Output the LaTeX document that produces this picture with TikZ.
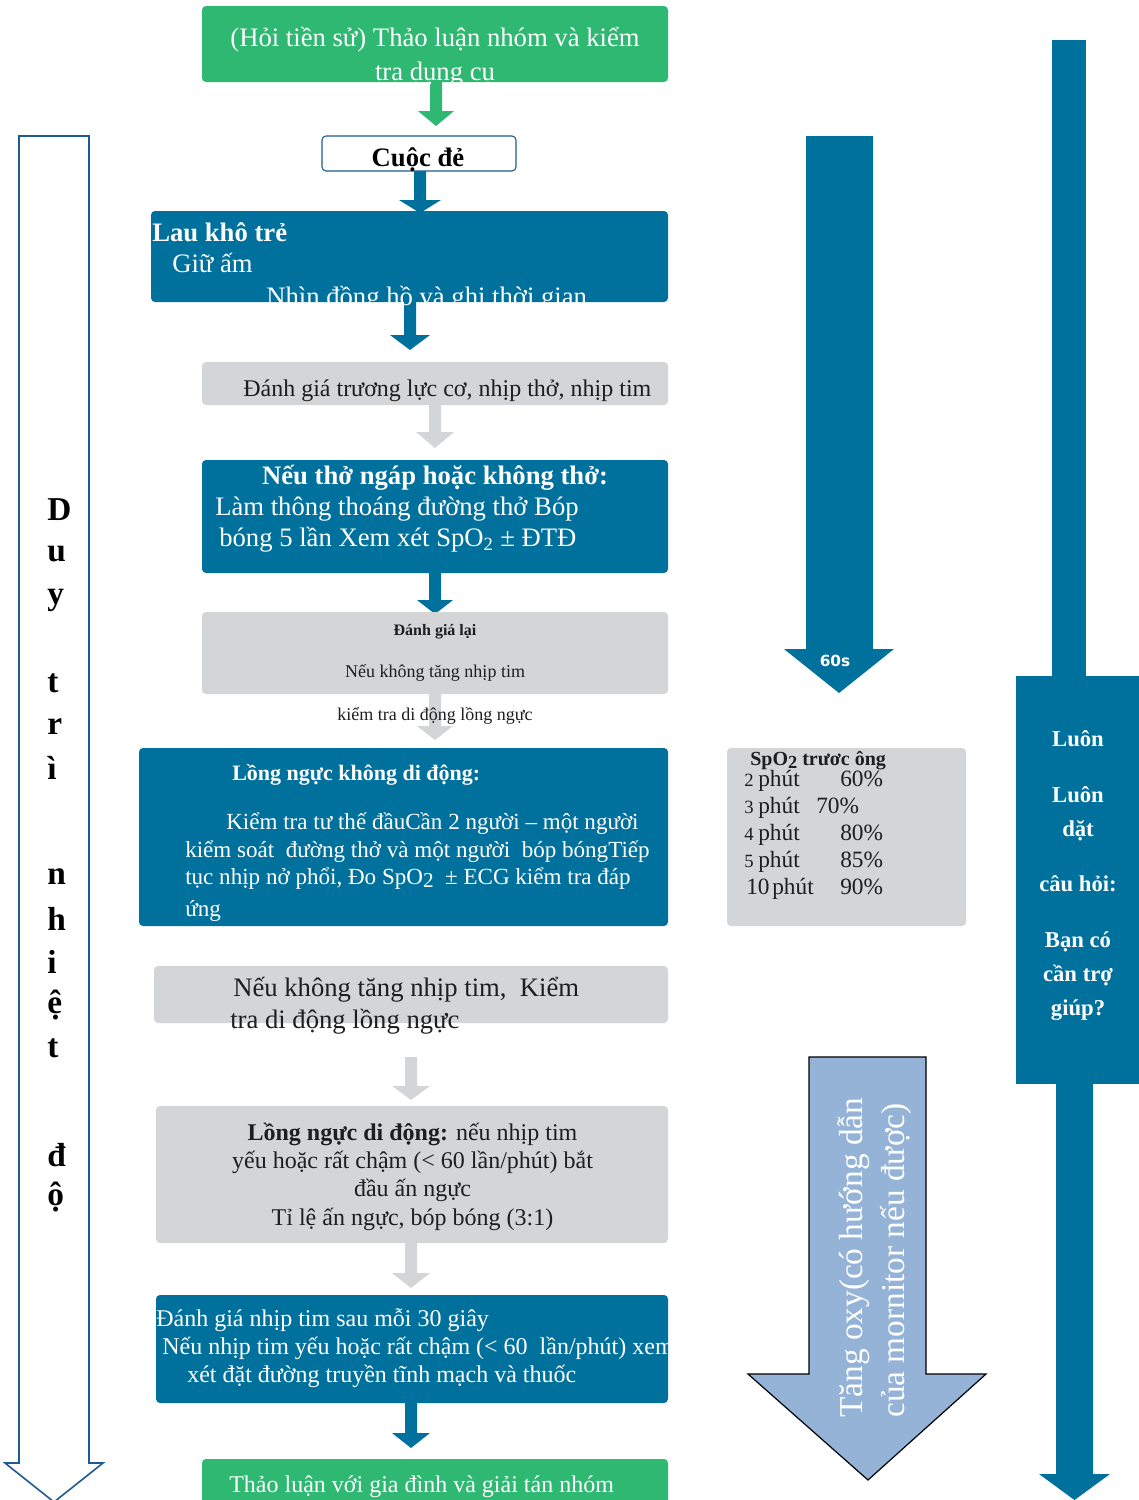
\documentclass[tikz,border=0pt]{standalone}
\usepackage{fontspec}
\setmainfont{Liberation Serif}
\newfontfamily\sansfnt{DejaVu Sans}
\usetikzlibrary{fit}
\definecolor{cgreen}{RGB}{46,184,114}
\definecolor{cblue}{RGB}{0,113,156}
\definecolor{cgray}{RGB}{212,213,215}
\definecolor{clight}{RGB}{149,179,215}
\definecolor{coutl}{RGB}{31,90,145}
\definecolor{ctext}{RGB}{30,30,30}
% #1 colour, #2 x centre, #3 top, #4 tip, #5 half shaft, #6 half head, #7 head start
\newcommand\blockarrow[7]{\fill[#1] (#2-#5,#3) -- (#2+#5,#3) -- (#2+#5,#7) -- (#2+#6,#7) -- (#2,#4) -- (#2-#6,#7) -- (#2-#5,#7) -- cycle;}
\newcommand\fsz[2]{\fontsize{#1}{#2}\selectfont}
\newcommand\bigsub[1]{\raisebox{-0.35ex}{\scalebox{0.92}{#1}}}
\begin{document}
\begin{tikzpicture}[x=0.75pt,y=-0.75pt,
  box/.style={inner sep=0pt, rounded corners=3pt},
  wt/.style={inner sep=0pt, text=white},
  bt/.style={inner sep=0pt, text=ctext},
  lt/.style={inner sep=0pt, text=black, anchor=west, font=\fsz{25}{30}\bfseries},
  rt/.style={inner sep=0pt, text=white, anchor=base, font=\fsz{17}{20}\bfseries},
]
\useasboundingbox (0,0) rectangle (1139,1500);
\fill[white] (0,0) rectangle (1139,1500);

% ---------- connectors (block arrows) ----------
\blockarrow{cgreen}{436}{80}{126}{6}{18}{111}
\blockarrow{cblue}{420}{170}{213}{6}{21}{200}
\blockarrow{cblue}{410}{300}{350}{6}{20}{335}
\blockarrow{cgray}{435}{404}{448}{6}{19}{432}
\blockarrow{cblue}{435}{572}{614}{6}{18}{600}
\blockarrow{cgray}{435}{693}{740}{6}{18}{726}
\blockarrow{cgray}{411}{1057}{1100}{6}{19}{1086}
\blockarrow{cgray}{411}{1242}{1288}{6}{19}{1273}
\blockarrow{cblue}{411}{1402}{1448}{6}{19}{1433}

% ---------- side arrows ----------
\draw[coutl, line width=1.2pt, fill=white] (19,136) -- (89,136) -- (89,1463) -- (103,1463) -- (54,1502) -- (5,1463) -- (19,1463) -- cycle;
\fill[cblue] (806,136) -- (873,136) -- (873,649) -- (894,649) -- (839,693) -- (784,649) -- (806,649) -- cycle;
\draw[black, line width=0.9pt, fill=clight] (809,1057) -- (926,1057) -- (926,1374) -- (986,1374) -- (868,1480) -- (748,1374) -- (809,1374) -- cycle;
\fill[cblue] (1052,40) rectangle (1086,690);
\blockarrow{cblue}{1074.5}{1070}{1500}{18.5}{35.5}{1474}

% ---------- boxes ----------
\node[box, fill=cgreen, fit={(202,6) (668,82)}] (b1) {};
\node[box, fill=white, draw=coutl, line width=0.8pt, fit={(322,136) (516,171)}] (b2) {};
\node[box, fill=cblue, fit={(151,211) (668,302)}] (b3) {};
\node[box, fill=cgray, fit={(202,362) (668,405)}] (b4) {};
\node[box, fill=cblue, fit={(202,460) (668,573)}] (b5) {};
\node[box, fill=cgray, fit={(202,612) (668,694)}] (b6) {};
\node[box, fill=cblue, fit={(139,748) (668,926)}] (b7) {};
\node[box, fill=cgray, fit={(154,966) (668,1023)}] (b8) {};
\node[box, fill=cgray, fit={(156,1106) (668,1243)}] (b9) {};
\node[box, fill=cblue, fit={(156,1295) (668,1403)}] (b10) {};
\node[box, fill=cgreen, fit={(202,1459) (668,1510)}] (b11) {};
\node[box, fill=cgray, fit={(727,748) (966,926)}] (b12) {};
\node[inner sep=0pt, fill=cblue, fit={(1016,676) (1139,1084)}] (b13) {};

% ---------- texts ----------
\node[wt, anchor=base, font=\fsz{20}{24}] (t1a) at (435,46) {(Hỏi tiền sử) Thảo luận nhóm và kiểm};
\node[wt, anchor=base, font=\fsz{20}{24}] (t1b) at (435,80) {tra dụng cụ};
\node[inner sep=0pt, text=black, anchor=base, font=\fsz{20}{24}\bfseries] (t2) at (418,166) {Cuộc đẻ};
\node[wt, anchor=base west, font=\fsz{20}{24}\bfseries] (t3a) at (152,241) {Lau khô trẻ};
\node[wt, anchor=base west, font=\fsz{20}{24}] (t3b) at (172,272) {Giữ ấm};
\node[wt, anchor=base west, font=\fsz{20}{24}] (t3c) at (266,305) {Nhìn đồng hồ và ghi thời gian};
\node[bt, anchor=base west, font=\fsz{18}{22}] (t4) at (243,396) {Đánh giá trương lực cơ, nhịp thở, nhịp tim};
\node[wt, anchor=base, font=\fsz{20}{23}\bfseries] (t5a) at (435,484) {Nếu thở ngáp hoặc không thở:};
\node[wt, anchor=base west, font=\fsz{20}{23}] (t5b) at (215,515) {Làm thông thoáng đường thở Bóp};
\node[wt, anchor=base west, font=\fsz{20}{23}] (t5c) at (219,546) {bóng 5 lần Xem xét SpO\textsubscript{2} ± ĐTĐ};
\node[bt, anchor=base, font=\fsz{12}{14}\bfseries] (t6a) at (435,635) {Đánh giá lại};
\node[bt, anchor=base, font=\fsz{13.5}{16}] (t6b) at (435,677) {Nếu không tăng nhịp tim};
\node[bt, anchor=base, font=\fsz{13.5}{16}] (t6c) at (435,720) {kiểm tra di động lồng ngực};
\node[wt, anchor=base west, font=\fsz{16.5}{20}\bfseries] (t7a) at (232,780) {Lồng ngực không di động:};
\node[wt, anchor=base west, font=\fsz{17.3}{20}] (t7b) at (226,829) {Kiểm tra tư thế đầuCần 2 người – một người};
\node[wt, anchor=base west, font=\fsz{17.3}{20}] (t7c) at (185,857) {kiểm soát\ \ đường thở và một người\ \ bóp bóngTiếp};
\node[wt, anchor=base west, font=\fsz{17.3}{20}] (t7d) at (185,884) {tục nhịp nở phổi, Đo SpO\bigsub{2}\ \ ± ECG kiểm tra đáp};
\node[wt, anchor=base west, font=\fsz{17.3}{20}] (t7e) at (185,916) {ứng};
\node[bt, anchor=base west, font=\fsz{20}{24}] (t8a) at (233,996) {Nếu không tăng nhịp tim,\ \ Kiểm};
\node[bt, anchor=base west, font=\fsz{20}{24}] (t8b) at (230,1028) {tra di động lồng ngực};
\node[bt, anchor=base, font=\fsz{18}{22}] (t9a) at (412.5,1140) {\textbf{Lồng ngực di động:} nếu nhịp tim};
\node[bt, anchor=base, font=\fsz{18}{22}] (t9b) at (412.5,1168) {yếu hoặc rất chậm (< 60 lần/phút) bắt};
\node[bt, anchor=base, font=\fsz{18}{22}] (t9c) at (412.5,1196) {đầu ấn ngực};
\node[bt, anchor=base, font=\fsz{18}{22}] (t9d) at (412.5,1225) {Tỉ lệ ấn ngực, bóp bóng (3:1)};
\node[wt, anchor=base west, font=\fsz{18}{22}] (t10a) at (156,1326) {Đánh giá nhịp tim sau mỗi 30 giây};
\node[wt, anchor=base west, font=\fsz{18}{22}] (t10b) at (162,1354) {Nếu nhịp tim yếu hoặc rất chậm (< 60\ \ lần/phút) xem};
\node[wt, anchor=base west, font=\fsz{18}{22}] (t10c) at (187,1382) {xét đặt đường truyền tĩnh mạch và thuốc};
\node[wt, anchor=base west, font=\fsz{18}{22}] (t11) at (229,1492) {Thảo luận với gia đình và giải tán nhóm};

% SpO2 table
\node[bt, anchor=base west, font=\fsz{15}{18}\bfseries] (s0) at (750,765) {SpO\bigsub{2} trươc ông};
\node[bt, anchor=base west, font=\fsz{14}{17}] (s1n) at (744,786) {2};
\node[bt, anchor=base west, font=\fsz{17.5}{20}] (s1p) at (758,786) {phút};
\node[bt, anchor=base west, font=\fsz{17.5}{20}] (s1v) at (840,786) {60\%};
\node[bt, anchor=base west, font=\fsz{14}{17}] (s2n) at (744,813) {3};
\node[bt, anchor=base west, font=\fsz{17.5}{20}] (s2p) at (758,813) {phút};
\node[bt, anchor=base west, font=\fsz{17.5}{20}] (s2v) at (816,813) {70\%};
\node[bt, anchor=base west, font=\fsz{14}{17}] (s3n) at (744,840) {4};
\node[bt, anchor=base west, font=\fsz{17.5}{20}] (s3p) at (758,840) {phút};
\node[bt, anchor=base west, font=\fsz{17.5}{20}] (s3v) at (840,840) {80\%};
\node[bt, anchor=base west, font=\fsz{14}{17}] (s4n) at (744,867) {5};
\node[bt, anchor=base west, font=\fsz{17.5}{20}] (s4p) at (758,867) {phút};
\node[bt, anchor=base west, font=\fsz{17.5}{20}] (s4v) at (840,867) {85\%};
\node[bt, anchor=base west, font=\fsz{17.5}{20}] (s5n) at (746,894) {10};
\node[bt, anchor=base west, font=\fsz{17.5}{20}] (s5p) at (772,894) {phút};
\node[bt, anchor=base west, font=\fsz{17.5}{20}] (s5v) at (840,894) {90\%};

% 60s label
\node[wt, anchor=base, font=\sansfnt\fsz{11.5}{14}\bfseries] (l60) at (835,666) {60s};

% rotated oxygen text
\node[wt, rotate=90, anchor=north west, align=left, font=\fsz{25}{31.5}] (ox) at (837,1418) {Tăng oxy(có hướng dẫn\\của mornitor nếu được)};

% right column text
\node[rt] (r1) at (1078,746) {Luôn};
\node[rt] (r2) at (1078,802) {Luôn};
\node[rt] (r3) at (1078,836) {dặt};
\node[rt] (r4) at (1078,891) {câu hỏi:};
\node[rt] (r5) at (1078,947) {Bạn có};
\node[rt] (r6) at (1078,981) {cần trợ};
\node[rt] (r7) at (1078,1015) {giúp?};

% left vertical letters
\node[lt] (v1) at (47,510) {D};
\node[lt] (v2) at (47,554) {u};
\node[lt] (v3) at (47,600) {y};
\node[lt] (v4) at (47,683) {t};
\node[lt] (v5) at (47,727) {r};
\node[lt] (v6) at (47,768) {ì};
\node[lt] (v7) at (47,877) {n};
\node[lt] (v8) at (47,919) {h};
\node[lt] (v9) at (47,962) {i};
\node[lt] (v10) at (47,1005) {ệ};
\node[lt] (v11) at (47,1048) {t};
\node[lt] (v12) at (47,1155) {đ};
\node[lt] (v13) at (47,1197) {ộ};
\end{tikzpicture}
\end{document}
